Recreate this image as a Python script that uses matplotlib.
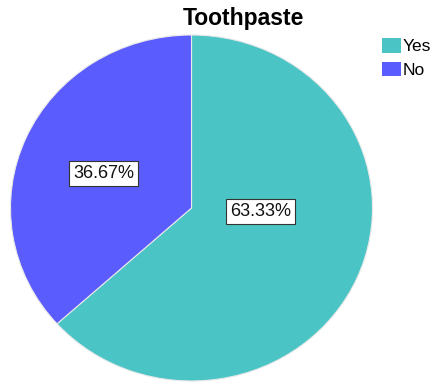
import matplotlib.pyplot as plt
import matplotlib.patches as mpatches

plt.rcParams['font.family'] = ['Liberation Sans', 'DejaVu Sans']

labels = ['Yes', 'No']
values = [63.33, 36.67]
colors = ['#4BC4C5', '#5B5CFE']

W, H = 439, 383
fig = plt.figure(figsize=(W / 100, H / 100), dpi=100)

# pie is slightly squashed vertically in the reference: 362 px wide, 346 px tall
cx, cy, rx, ry = 191.5, 208, 181, 173
ax = fig.add_axes([(cx - rx) / W, 1 - (cy + ry) / H, 2 * rx / W, 2 * ry / H])

wedges, texts, autotexts = ax.pie(values, colors=colors, startangle=90, counterclock=False,
                                  autopct='%.2f%%',
                                  wedgeprops=dict(edgecolor='#e8e8e8', linewidth=0.8),
                                  textprops=dict(fontsize=13, color='#111111'))
ax.set_xlim(-1, 1)
ax.set_ylim(-1, 1)
ax.set_aspect('auto')
ax.axis('off')

# label placement as in the reference
label_pos = [(0.38, -0.02), (-0.487, 0.202)]
for t, pos in zip(autotexts, label_pos):
    t.set_position(pos)
    t.set_ha('center')
    t.set_va('center')
    t.set_bbox(dict(boxstyle='square,pad=0.22', facecolor='white', edgecolor='#333333', linewidth=0.8))

fig.text(243 / W, 1 - 18 / H, 'Toothpaste', ha='center', va='center',
         fontsize=16.5, fontweight='bold')

handles = [mpatches.Patch(facecolor=c, edgecolor='none', label=l) for c, l in zip(colors, labels)]
fig.legend(handles=handles, loc='upper left', bbox_to_anchor=(382 / W, 1 - 38 / H),
           frameon=False, fontsize=12.5, handlelength=1.1, handleheight=0.92,
           handletextpad=0.1, labelspacing=0.42, borderpad=0, borderaxespad=0)

plt.savefig('out.png', dpi=100)
